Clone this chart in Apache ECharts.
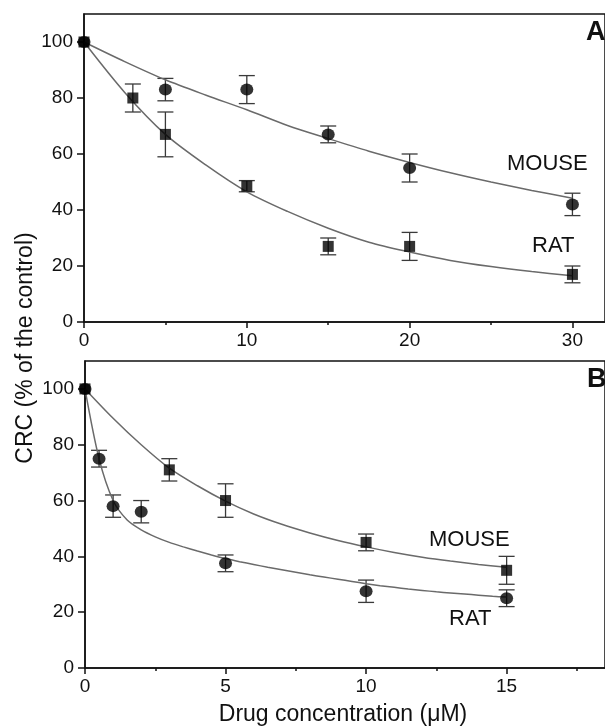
<!DOCTYPE html>
<html>
<head>
<meta charset="utf-8">
<script src="https://cdn.jsdelivr.net/npm/echarts@6/dist/echarts.min.js"></script>
<style>
  html, body { margin: 0; padding: 0; background: #fff; }
  #main { width: 605px; height: 726px; }
</style>
</head>
<body>
<div id="main"></div>
<script>
// panel A (drug concentration up to 30 uM)
var aRatConc = [0, 3, 5, 10, 15, 20, 30];
var aRat = [100, 80, 67, 48.5, 27, 27, 17];
var aRatErr = [0, 5, 8, 2, 3, 5, 3];
var aMouseConc = [0, 5, 10, 15, 20, 30];
var aMouse = [100, 83, 83, 67, 55, 42];
var aMouseErr = [0, 4, 5, 3, 5, 4];
// fitted curves, every 2.5 uM
var aFitX = [0, 2.5, 5, 7.5, 10, 12.5, 15, 17.5, 20, 22.5, 25, 27.5, 30];
var aRatFit = [100, 82, 67, 56, 46.5, 39.5, 33.5, 28.5, 25, 22, 19.8, 18, 16.5];
var aMouseFit = [100, 93, 86.5, 81, 75.8, 70.2, 65.5, 61, 57, 53.3, 50, 47, 44.2];

// panel B (drug concentration up to 15 uM)
var bMouseConc = [0, 3, 5, 10, 15];
var bMouse = [100, 71, 60, 45, 35];
var bMouseErr = [0, 4, 6, 3, 5];
var bRatConc = [0, 0.5, 1, 2, 5, 10, 15];
var bRat = [100, 75, 58, 56, 37.5, 27.5, 25];
var bRatErr = [0, 3, 4, 4, 3, 4, 3];
// fitted curves
var bMouseFitX = [0, 1, 2, 3, 4, 5, 6, 7, 8, 9, 10, 11, 12, 13, 14, 15];
var bMouseFit = [100, 89.5, 80, 71.6, 65.3, 59.8, 55.2, 51.5, 48.4, 45.7, 43.4, 41.4, 39.7, 38.3, 37.1, 36.1];
var bRatFitX = [0, 0.5, 1, 1.5, 2, 2.5, 3, 3.5, 4, 4.5, 5, 5.5, 6, 6.5, 7, 7.5, 8, 8.5, 9, 9.5, 10,
                10.5, 11, 11.5, 12, 12.5, 13, 13.5, 14, 14.5, 15];
var bRatFit = [100, 75, 60, 53, 49.5, 47, 45, 43.4, 41.9, 40.5, 39.2, 38.1, 37.1, 36.1, 35.2, 34.3,
               33.4, 32.6, 31.8, 31, 30.2, 29.5, 28.9, 28.3, 27.8, 27.3, 26.9, 26.5, 26.1, 25.7, 25.4];

var yTicks = [0, 20, 40, 60, 80, 100];
var aMajor = [0, 10, 20, 30];
var aMinor = [5, 15, 25];
var bMajor = [0, 5, 10, 15];
var bMinor = [2.5, 7.5, 12.5, 17.5];

var FONT = "'Liberation Sans', Arial, sans-serif";

function zip(xs, ys, es) {
    return xs.map(function (x, i) { return es ? [x, ys[i], es[i]] : [x, ys[i]]; });
}

function errRender(params, api) {
    var x = api.value(0), y = api.value(1), e = api.value(2);
    if (!e) return;
    var top = api.coord([x, y + e]);
    var bot = api.coord([x, y - e]);
    var hw = 8;
    var st = { stroke: '#3a3a3a', lineWidth: 1.3 };
    return {
        type: 'group',
        children: [
            { type: 'line', shape: { x1: top[0], y1: top[1], x2: bot[0], y2: bot[1] }, style: st },
            { type: 'line', shape: { x1: top[0] - hw, y1: top[1], x2: top[0] + hw, y2: top[1] }, style: st },
            { type: 'line', shape: { x1: bot[0] - hw, y1: bot[1], x2: bot[0] + hw, y2: bot[1] }, style: st }
        ]
    };
}

function mainX(grid, max, major, minor) {
    return [{
        type: 'value', gridIndex: grid, min: 0, max: max,
        axisLine: { show: true, lineStyle: { color: '#111', width: 1.5 } },
        axisTick: { show: true, inside: false, length: 6, customValues: major, lineStyle: { color: '#111', width: 1.5 } },
        axisLabel: { customValues: major, margin: 9, color: '#111', fontSize: 19, fontFamily: FONT },
        splitLine: { show: false }
    }, {
        type: 'value', gridIndex: grid, min: 0, max: max, position: 'bottom',
        axisLine: { show: false },
        axisTick: { show: true, inside: false, length: 3, customValues: minor, lineStyle: { color: '#111', width: 1.5 } },
        axisLabel: { show: false },
        splitLine: { show: false }
    }];
}

function mainY(grid) {
    return {
        type: 'value', gridIndex: grid, min: 0, max: 110,
        axisLine: { show: true, lineStyle: { color: '#111', width: 1.5 } },
        axisTick: { show: true, inside: false, length: 7, customValues: yTicks, lineStyle: { color: '#111', width: 1.5 } },
        axisLabel: { customValues: yTicks, margin: 11, color: '#111', fontSize: 19, fontFamily: FONT },
        splitLine: { show: false }
    };
}

function fitLine(xi, yi, xs, ys) {
    return {
        type: 'line', xAxisIndex: xi, yAxisIndex: yi, data: zip(xs, ys),
        smooth: 0.3, showSymbol: false, symbol: 'none', z: 3,
        lineStyle: { color: '#6a6a6a', width: 1.5 }
    };
}

function errs(xi, yi, xs, ys, es) {
    return {
        type: 'custom', xAxisIndex: xi, yAxisIndex: yi, data: zip(xs, ys, es),
        encode: { x: 0, y: 1 }, renderItem: errRender, z: 2
    };
}

function pts(xi, yi, xs, ys, sym) {
    return {
        type: 'scatter', xAxisIndex: xi, yAxisIndex: yi, data: zip(xs, ys),
        symbol: sym, symbolSize: sym === 'rect' ? 11 : [13, 12], z: 5,
        itemStyle: { color: '#000' }
    };
}

function label(text, x, y, size, bold) {
    return {
        type: 'text', x: x, y: y,
        style: { text: text, fill: '#111', fontSize: size, fontWeight: bold ? 'bold' : 'normal', fontFamily: FONT, textVerticalAlign: 'middle' }
    };
}

var myChart = echarts.init(document.getElementById('main'));
var option = {
    animation: false,
    backgroundColor: '#fff',
    grid: [
        { left: 84, right: -8, top: 14, height: 308, show: true, borderColor: '#111', borderWidth: 1.5, backgroundColor: 'transparent' },
        { left: 85, right: -8, top: 361, height: 307, show: true, borderColor: '#111', borderWidth: 1.5, backgroundColor: 'transparent' }
    ],
    xAxis: mainX(0, 32, aMajor, aMinor).concat(mainX(1, 18.5, bMajor, bMinor)),
    yAxis: [mainY(0), mainY(1)],
    series: [
        errs(0, 0, aRatConc, aRat, aRatErr),
        errs(0, 0, aMouseConc, aMouse, aMouseErr),
        fitLine(0, 0, aFitX, aRatFit),
        fitLine(0, 0, aFitX, aMouseFit),
        pts(0, 0, aMouseConc, aMouse, 'circle'),
        pts(0, 0, aRatConc, aRat, 'rect'),

        errs(2, 1, bMouseConc, bMouse, bMouseErr),
        errs(2, 1, bRatConc, bRat, bRatErr),
        fitLine(2, 1, bMouseFitX, bMouseFit),
        fitLine(2, 1, bRatFitX, bRatFit),
        pts(2, 1, bRatConc, bRat, 'circle'),
        pts(2, 1, bMouseConc, bMouse, 'rect')
    ],
    graphic: [
        label('A', 586, 33, 27, true),
        label('B', 587, 380, 27, true),
        label('MOUSE', 507, 164, 22),
        label('RAT', 532, 246, 22),
        label('MOUSE', 429, 540, 22),
        label('RAT', 449, 619, 22),
        {
            type: 'text', x: 26, y: 348, rotation: Math.PI / 2,
            style: { text: 'CRC (% of the control)', fill: '#111', fontSize: 23, fontFamily: FONT, textAlign: 'center', textVerticalAlign: 'middle' }
        },
        {
            type: 'text', x: 343, y: 715,
            style: { text: 'Drug concentration (\u03BCM)', fill: '#111', fontSize: 23, fontFamily: FONT, textAlign: 'center', textVerticalAlign: 'middle' }
        }
    ]
};
myChart.setOption(option);
</script>
</body>
</html>
